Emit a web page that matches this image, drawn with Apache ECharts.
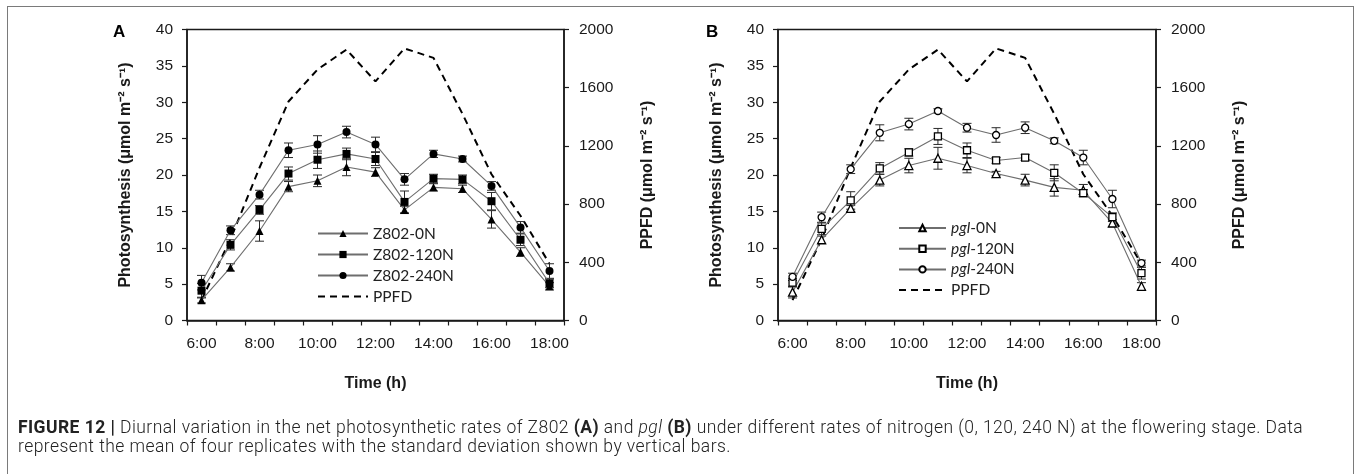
<!DOCTYPE html>
<html>
<head>
<meta charset="utf-8">
<script src="https://cdn.jsdelivr.net/npm/echarts@6/dist/echarts.min.js"></script>
<style>
  html, body { margin:0; padding:0; background:#fff; }
  #frame { position:absolute; left:7px; top:6px; width:1347px; height:480px; border:1.5px solid #7a7a7a; box-sizing:border-box; }
  #chart { position:absolute; left:0; top:0; width:1357px; height:474px; }
  .cap { position:absolute; left:18px; font-family:Roboto, "Liberation Sans", sans-serif; font-weight:300; font-size:17.5px; color:#222; white-space:nowrap; line-height:20px; }
  .cap b { font-weight:700; }
</style>
</head>
<body>
<div id="frame"></div>
<div id="chart"></div>
<div class="cap" id="cap1" style="top:417px;"><b>FIGURE 12 |</b> Diurnal variation in the net photosynthetic rates of Z802 <b>(A)</b> and <i>pgl</i> <b>(B)</b> under different rates of nitrogen (0, 120, 240 N) at the flowering stage. Data</div>
<div class="cap" id="cap2" style="top:436px;">represent the mean of four replicates with the standard deviation shown by vertical bars.</div>
<script>
// ---- data ----
const times = ['6:00','7:00','8:00','9:00','10:00','11:00','12:00','13:00','14:00','15:00','16:00','17:00','18:00'];
const ppfd = [140, 560, 1050, 1505, 1725, 1862, 1643, 1870, 1805, 1420, 1005, 720, 390];

const z802_0N      = [2.8, 7.3, 12.3, 18.4, 19.2, 21.1, 20.4, 15.2, 18.3, 18.1, 13.9, 9.4, 4.7];
const z802_0N_sd   = [0.4, 0.5, 1.4, 0.7, 0.8, 1.2, 0.6, 0.5, 0.5, 0.5, 1.2, 0.6, 0.5];
const z802_120N    = [4.1, 10.4, 15.2, 20.2, 22.1, 22.9, 22.2, 16.3, 19.5, 19.4, 16.4, 11.1, 5.1];
const z802_120N_sd = [1.0, 0.7, 0.6, 0.9, 1.2, 0.8, 0.9, 1.5, 0.6, 0.6, 1.2, 0.8, 0.6];
const z802_240N    = [5.2, 12.4, 17.3, 23.4, 24.2, 25.9, 24.2, 19.4, 22.9, 22.2, 18.5, 12.8, 6.8];
const z802_240N_sd = [1.0, 0.6, 0.6, 1.0, 1.2, 0.8, 1.0, 0.8, 0.5, 0.4, 0.6, 0.8, 1.0];

const pgl_0N       = [3.9, 11.1, 15.4, 19.3, 21.3, 22.3, 21.3, 20.2, 19.3, 18.3, 17.9, 13.4, 4.7];
const pgl_0N_sd    = [0.8, 0.5, 0.4, 0.8, 1.0, 1.5, 1.0, 0.3, 0.8, 1.2, 0.8, 0.5, 0.5];
const pgl_120N     = [5.2, 12.6, 16.5, 20.9, 23.1, 25.3, 23.4, 22.0, 22.4, 20.3, 17.5, 14.2, 6.5];
const pgl_120N_sd  = [0.6, 0.8, 1.2, 0.8, 0.5, 1.1, 1.0, 0.4, 0.4, 1.1, 0.5, 0.6, 0.8];
const pgl_240N     = [6.0, 14.2, 20.8, 25.8, 27.0, 28.8, 26.5, 25.5, 26.5, 24.7, 22.4, 16.7, 7.9];
const pgl_240N_sd  = [0.5, 0.7, 0.6, 1.1, 0.8, 0.3, 0.6, 1.0, 0.8, 0.4, 1.0, 1.2, 0.4];

const leftTicks = [0, 40, 5];
const rightTicks = [0, 2000, 400];

// ---- helpers ----
const INK = '#1a1a1a';
const LINE = '#6e6e6e';
const FAM = '"Liberation Sans", Arial, sans-serif';
const axFont = { fontFamily:FAM, fontSize:15.5, color:INK };
const titleFont = { fontFamily:FAM, fontSize:16, fontWeight:'bold', color:INK };

function errData(vals, sds){ return vals.map((v,i)=>[i, v - sds[i], v + sds[i]]); }
function errRender(params, api){
  const x = api.value(0);
  const p1 = api.coord([x, api.value(1)]);
  const p2 = api.coord([x, api.value(2)]);
  const w = 4.5;
  const st = { stroke:'#2a2a2a', lineWidth:1 };
  return { type:'group', children:[
    { type:'line', shape:{x1:p1[0], y1:p1[1], x2:p2[0], y2:p2[1]}, style:st },
    { type:'line', shape:{x1:p1[0]-w, y1:p1[1], x2:p1[0]+w, y2:p1[1]}, style:st },
    { type:'line', shape:{x1:p2[0]-w, y1:p2[1], x2:p2[0]+w, y2:p2[1]}, style:st }
  ]};
}
function xAxisDef(gi){
  return {
    type:'category', gridIndex:gi, data:times, boundaryGap:true,
    name:'Time (h)', nameLocation:'middle', nameGap:55, nameTextStyle:titleFont,
    axisLine:{ lineStyle:{ color:INK, width:1.5 } },
    axisTick:{ show:true, interval:0, length:5, lineStyle:{ color:INK, width:1.2 } },
    axisLabel:Object.assign({ interval:1, margin:15 }, axFont),
    splitLine:{ show:false }
  };
}
function yLeft(gi){
  return {
    type:'value', gridIndex:gi, min:leftTicks[0], max:leftTicks[1], interval:leftTicks[2],
    name:'Photosynthesis (μmol m⁻² s⁻¹)', nameLocation:'middle', nameGap:53, nameRotate:90, nameTextStyle:titleFont,
    axisLine:{ show:true, lineStyle:{ color:INK, width:1.5 } },
    axisTick:{ show:true, length:5, lineStyle:{ color:INK, width:1.2 } },
    axisLabel:Object.assign({ margin:14 }, axFont),
    splitLine:{ show:false }
  };
}
function yRight(gi){
  return {
    type:'value', gridIndex:gi, position:'right', min:rightTicks[0], max:rightTicks[1], interval:rightTicks[2],
    name:'PPFD (μmol m⁻² s⁻¹)', nameLocation:'middle', nameGap:76, nameRotate:90, nameTextStyle:titleFont,
    axisLine:{ show:true, lineStyle:{ color:INK, width:1.5 } },
    axisTick:{ show:true, length:5, lineStyle:{ color:INK, width:1.2 } },
    axisLabel:Object.assign({ margin:15, formatter:function(v){ return String(v); } }, axFont),
    splitLine:{ show:false }
  };
}
function lineSeries(name, data, gi, symbol, size, hollow){
  return {
    type:'line', name:name, data:data, xAxisIndex:gi, yAxisIndex:gi*2,
    symbol:symbol, symbolSize:size, showSymbol:true, z:5,
    lineStyle:{ color:LINE, width:1.1 },
    itemStyle:{ color: hollow ? '#ffffff' : '#000000', borderColor:'#000000', borderWidth: hollow ? 1.3 : 0 },
    emphasis:{ disabled:true }, animation:false
  };
}
function errSeries(vals, sds, gi){
  return {
    type:'custom', renderItem:errRender, data:errData(vals, sds),
    xAxisIndex:gi, yAxisIndex:gi*2, z:3, silent:true, animation:false,
    encode:{ x:0, y:[1,2] }
  };
}
function ppfdSeries(gi, nm){
  return {
    type:'line', name:nm, data:ppfd, xAxisIndex:gi, yAxisIndex:gi*2+1,
    symbol:'none', z:2,
    lineStyle:{ color:'#000', width:2, type:[7,5] },
    itemStyle:{ color:'#000' }, emphasis:{ disabled:true }, animation:false
  };
}

const legendFont = { fontFamily:'Lato, "Open Sans", sans-serif', fontSize:15.5, color:'#222' };
const noSym = { opacity:0 };

const option = {
  animation:false,
  grid:[
    { left:187, top:29.5, width:377, height:291, show:true, borderColor:INK, borderWidth:1.5, containLabel:false },
    { left:778, top:29.5, width:378, height:291, show:true, borderColor:INK, borderWidth:1.5, containLabel:false }
  ],
  xAxis:[ xAxisDef(0), xAxisDef(1) ],
  yAxis:[ yLeft(0), yRight(0), yLeft(1), yRight(1) ],
  legend:[
    { left:317, top:225.5, padding:0, orient:'vertical', itemWidth:50, itemHeight:9, itemGap:5,
      data:['Z802-0N','Z802-120N','Z802-240N',{ name:'PPFD', itemStyle:noSym }], textStyle:legendFont, selectedMode:false },
    { left:898, top:220, padding:0, orient:'vertical', itemWidth:47, itemHeight:8, itemGap:4.7,
      data:['pgl-0N','pgl-120N','pgl-240N',{ name:'PPFD ', itemStyle:noSym }],
      textStyle:Object.assign({ rich:{ i:Object.assign({ fontStyle:'italic' }, legendFont) } }, legendFont),
      formatter:function(n){ return n.indexOf('pgl')===0 ? '{i|pgl}' + n.slice(3) : n.trim(); }, selectedMode:false }
  ],
  graphic:[
    { type:'text', left:113, top:24, style:{ text:'A', font:'bold 17px "Liberation Sans", Arial, sans-serif', fill:'#000' } },
    { type:'text', left:706, top:24, style:{ text:'B', font:'bold 17px "Liberation Sans", Arial, sans-serif', fill:'#000' } }
  ],
  series:[
    ppfdSeries(0, 'PPFD'),
    errSeries(z802_0N, z802_0N_sd, 0),
    errSeries(z802_120N, z802_120N_sd, 0),
    errSeries(z802_240N, z802_240N_sd, 0),
    lineSeries('Z802-0N', z802_0N, 0, 'triangle', 8, false),
    lineSeries('Z802-120N', z802_120N, 0, 'rect', 8, false),
    lineSeries('Z802-240N', z802_240N, 0, 'circle', 8, false),

    ppfdSeries(1, 'PPFD '),
    errSeries(pgl_0N, pgl_0N_sd, 1),
    errSeries(pgl_120N, pgl_120N_sd, 1),
    errSeries(pgl_240N, pgl_240N_sd, 1),
    lineSeries('pgl-0N', pgl_0N, 1, 'triangle', 8, true),
    lineSeries('pgl-120N', pgl_120N, 1, 'rect', 7, true),
    lineSeries('pgl-240N', pgl_240N, 1, 'circle', 7, true)
  ]
};
const chart = echarts.init(document.getElementById('chart'), null, { renderer:'canvas' });
chart.setOption(option);

// fit caption line 1 to the reference width via letter spacing
(function(){
  const c1 = document.getElementById('cap1'), c2 = document.getElementById('cap2');
  const w = c1.getBoundingClientRect().width;
  const n = c1.textContent.length;
  const ls = (1285 - w) / n;
  c1.style.letterSpacing = ls + 'px';
  c2.style.letterSpacing = ls + 'px';
})();
</script>
</body>
</html>
